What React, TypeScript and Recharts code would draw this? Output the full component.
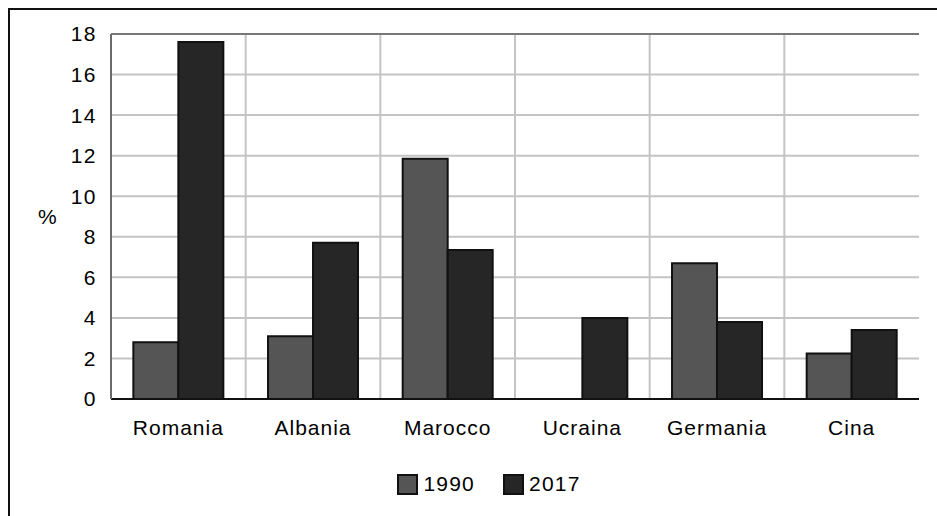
import React from 'react'
import {
  BarChart, Bar, XAxis, YAxis, CartesianGrid, Legend, ReferenceLine, Label,
} from 'recharts'

const countries = ['Romania', 'Albania', 'Marocco', 'Ucraina', 'Germania', 'Cina']
const v1990 = [2.8, 3.1, 11.85, 0, 6.7, 2.25]
const v2017 = [17.6, 7.7, 7.35, 4.0, 3.8, 3.4]
const yTicks = [0, 2, 4, 6, 8, 10, 12, 14, 16, 18]

const data = countries.map((c, i) => ({ name: c, a: v1990[i], b: v2017[i] }))

const FONT = '"Liberation Sans", Arial, sans-serif'
const C1990 = '#555555'
const C2017 = '#262626'

const legendItems = [
  { label: '1990', color: C1990 },
  { label: '2017', color: C2017 },
]

function LegendBox() {
  return (
    <div style={{ display: 'flex', justifyContent: 'center', gap: 28, paddingLeft: 48, fontFamily: FONT, fontSize: 21, letterSpacing: 1.2, color: '#000', height: 24 }}>
      {legendItems.map((it) => (
        <div key={it.label} style={{ display: 'flex', alignItems: 'center', gap: 5 }}>
          <span style={{ display: 'inline-block', width: 17, height: 17, background: it.color, border: '2px solid #111' }} />
          <span>{it.label}</span>
        </div>
      ))}
    </div>
  )
}

export default function App() {
  return (
    <div style={{ position: 'absolute', left: 0, top: 0, width: 937, height: 516, background: '#fff', overflow: 'hidden' }}>
      <div style={{ position: 'absolute', left: 8, top: 8, width: 940, height: 520, borderTop: '2px solid #111', borderLeft: '2px solid #111' }} />
      <BarChart
        width={937}
        height={516}
        data={data}
        margin={{ top: 34, right: 18, left: 11, bottom: 63 }}
        barCategoryGap="16.6%"
        barGap={0}
        style={{ fontFamily: FONT }}
      >
        <CartesianGrid
          stroke="#c4c4c4"
          strokeWidth={2}
          verticalCoordinatesGenerator={({ offset }: any) =>
            countries.slice(1).map((_, i) => offset.left + ((i + 1) * offset.width) / countries.length)
          }
        />
        <XAxis
          dataKey="name"
          tickLine={false}
          axisLine={{ stroke: '#111', strokeWidth: 2 }}
          tick={{ fontSize: 21, fill: '#000', letterSpacing: 1 }}
          tickMargin={15}
          interval={0}
        />
        <YAxis
          width={100}
          domain={[0, 18]}
          ticks={yTicks}
          tickLine={false}
          axisLine={{ stroke: '#6a6a6a', strokeWidth: 2 }}
          tick={{ fontSize: 21, fill: '#000', letterSpacing: 1.5 }}
          tickMargin={8}
          interval={0}
        >
          <Label value="%" position="insideLeft" offset={27} style={{ fontSize: 21, fill: '#000' }} />
        </YAxis>
        <YAxis yAxisId="r" orientation="right" width={0} tick={false} tickLine={false} axisLine={{ stroke: '#111', strokeWidth: 2 }} />
        <ReferenceLine y={18} stroke="#777" strokeWidth={2} />
        <Legend verticalAlign="bottom" wrapperStyle={{ bottom: 20 }} content={() => <LegendBox />} />
        <Bar dataKey="a" name="1990" fill={C1990} stroke="#111" strokeWidth={2} isAnimationActive={false} />
        <Bar dataKey="b" name="2017" fill={C2017} stroke="#111" strokeWidth={2} isAnimationActive={false} />
      </BarChart>
    </div>
  )
}
